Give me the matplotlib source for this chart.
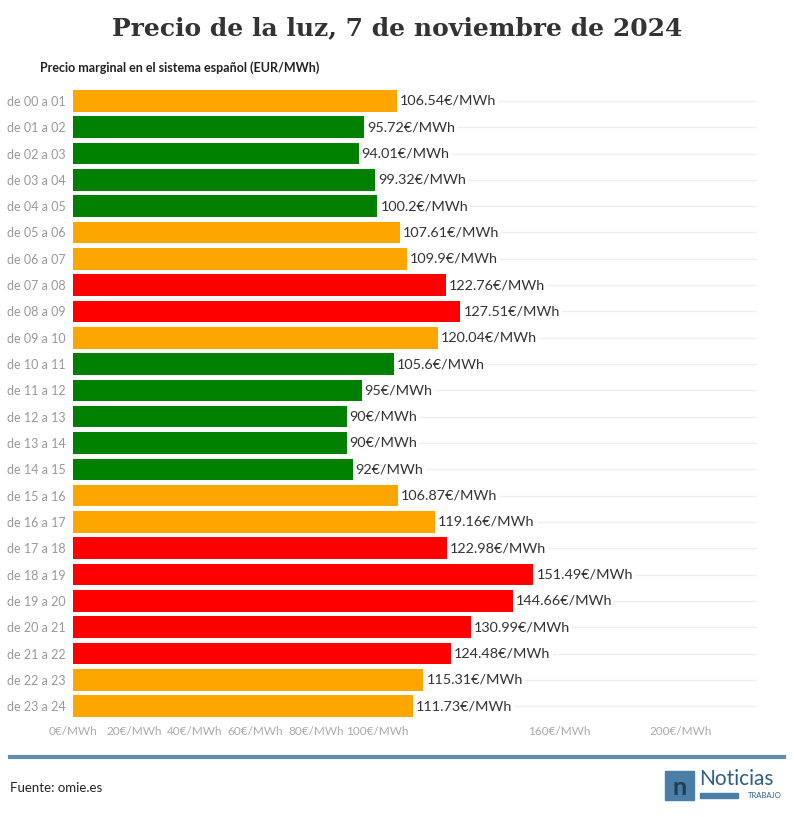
import matplotlib.pyplot as plt
from matplotlib.patches import Rectangle

horas = ['de 00 a 01', 'de 01 a 02', 'de 02 a 03', 'de 03 a 04', 'de 04 a 05', 'de 05 a 06',
         'de 06 a 07', 'de 07 a 08', 'de 08 a 09', 'de 09 a 10', 'de 10 a 11', 'de 11 a 12',
         'de 12 a 13', 'de 13 a 14', 'de 14 a 15', 'de 15 a 16', 'de 16 a 17', 'de 17 a 18',
         'de 18 a 19', 'de 19 a 20', 'de 20 a 21', 'de 21 a 22', 'de 22 a 23', 'de 23 a 24']
precios = [106.54, 95.72, 94.01, 99.32, 100.2, 107.61, 109.9, 122.76, 127.51, 120.04, 105.6, 95,
           90, 90, 92, 106.87, 119.16, 122.98, 151.49, 144.66, 130.99, 124.48, 115.31, 111.73]
etiquetas = ['106.54', '95.72', '94.01', '99.32', '100.2', '107.61', '109.9', '122.76', '127.51',
             '120.04', '105.6', '95', '90', '90', '92', '106.87', '119.16', '122.98', '151.49',
             '144.66', '130.99', '124.48', '115.31', '111.73']
niveles = ['m', 'b', 'b', 'b', 'b', 'm', 'm', 'a', 'a', 'm', 'b', 'b',
           'b', 'b', 'b', 'm', 'm', 'a', 'a', 'a', 'a', 'a', 'm', 'm']
ticks = [0, 20, 40, 60, 80, 100, 160, 200]

colores = {'b': '#008000', 'm': '#FFA500', 'a': '#FF0000'}
plt.rcParams['font.family'] = ['Lato', 'DejaVu Sans']

fig = plt.figure(figsize=(7.94, 8.17), dpi=100)
ax = fig.add_axes([0.092, 0.1196, 0.861, 0.773])

y = list(range(len(horas)))
for i, v in enumerate(precios):
    ax.axhline(i, color='#eeeeee', lw=1, zorder=0)
ax.barh(y, precios, height=0.82, color=[colores[n] for n in niveles], zorder=2)
for i, v in enumerate(precios):
    ax.text(v + 1, i, etiquetas[i] + '€/MWh', va='center', ha='left', fontsize=10.4,
            color='#333333', zorder=3,
            bbox=dict(facecolor='white', edgecolor='none', pad=1.5))

ax.set_xlim(0, 225)
ax.set_ylim(len(horas) - 0.5, -0.5)
ax.set_yticks(y)
ax.set_yticklabels(horas, fontsize=9, color='#999999')
ax.set_xticks(ticks)
ax.set_xticklabels([f'{t}€/MWh' for t in ticks], fontsize=8.5, color='#aaaaaa')
ax.tick_params(length=0, pad=5)
for s in ax.spines.values():
    s.set_visible(False)

fig.text(0.5, 0.966, 'Precio de la luz, 7 de noviembre de 2024', ha='center', va='center',
         fontsize=18, fontweight='bold', color='#333333', family='DejaVu Serif')
fig.text(0.05, 0.917, 'Precio marginal en el sistema español (EUR/MWh)', ha='left', va='center',
         fontsize=9, fontweight='bold', color='#222222')

fig.add_artist(plt.Line2D([0.013, 0.987], [0.073, 0.073], color='#5f8fab', lw=3))
fig.text(0.013, 0.036, 'Fuente: omie.es', ha='left', va='center', fontsize=9.5, color='#222222')

# logo
fig.add_artist(Rectangle((0.838, 0.021), 0.036, 0.035, color='#4a7ea6'))
fig.text(0.856, 0.036, 'n', ha='center', va='center', fontsize=18, color='#1c3e5c', fontweight='bold')
fig.text(0.880, 0.046, 'Noticias', ha='left', va='center', fontsize=15, color='#2e5f86')
fig.add_artist(Rectangle((0.882, 0.023), 0.048, 0.006, color='#4a7ea6'))
fig.text(0.985, 0.026, 'TRABAJO', ha='right', va='center', fontsize=5.5, color='#2e5f86')

fig.savefig('out.png', dpi=100)
